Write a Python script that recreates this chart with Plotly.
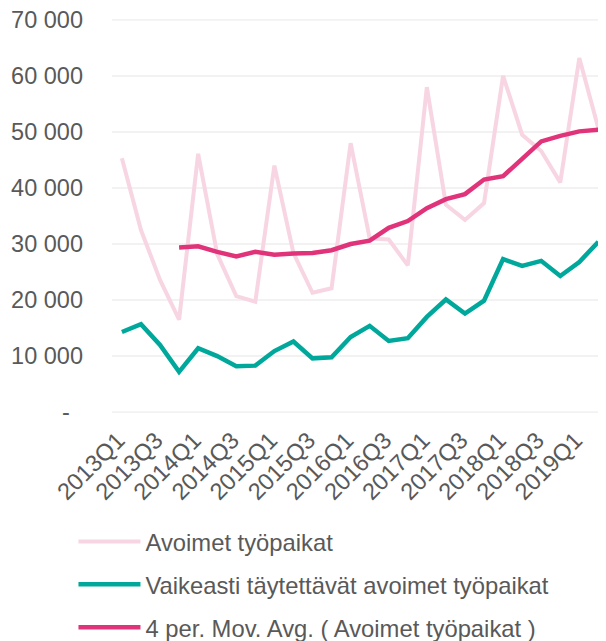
import plotly.graph_objects as go

# Quarterly vacancies, 2013Q1 - 2019Q2
quarters = [f"{y}Q{q}" for y in range(2013, 2020) for q in range(1, 5)][:26]

avoimet = [45300, 32500, 23600, 16500, 46100, 28200, 20700, 19700,
           44000, 28400, 21300, 22100, 48000, 31000, 30800, 26200,
           58000, 37000, 34300, 37300, 60000, 49500, 46600, 41000,
           63200, 50600]

vaikeasti = [14300, 15700, 12000, 7200, 11400, 10000, 8200, 8300,
             10900, 12600, 9600, 9800, 13400, 15400, 12700, 13200,
             17000, 20100, 17600, 19900, 27300, 26100, 27000, 24300,
             26800, 30400]

# 4-period moving average as drawn (starts at the 4th quarter)
mov_avg = [None, None, None, 29400, 29600, 28600, 27800, 28600,
           28100, 28300, 28400, 28900, 30000, 30600, 32900, 34100,
           36400, 38000, 38900, 41500, 42100, 45200, 48300, 49300,
           50100, 50400]

y_ticks = [0, 10000, 20000, 30000, 40000, 50000, 60000, 70000]
y_ticktext = ["-\u00a0\u00a0", "10 000", "20 000", "30 000", "40 000", "50 000", "60 000", "70 000"]

TEXT = "#595959"
GRID = "#D6D6D6"
FONT = "Arial, Liberation Sans, sans-serif"

fig = go.Figure()
fig.add_trace(go.Scatter(x=quarters, y=avoimet, mode="lines", name="Avoimet työpaikat",
                         line=dict(color="#F8D5E2", width=4), legendgroup="a"))
fig.add_trace(go.Scatter(x=quarters, y=vaikeasti, mode="lines",
                         name="Vaikeasti täytettävät avoimet työpaikat",
                         line=dict(color="#00A89C", width=4.5), legendgroup="b"))
fig.add_trace(go.Scatter(x=quarters, y=mov_avg, mode="lines",
                         name="4 per. Mov. Avg. ( Avoimet työpaikat )",
                         line=dict(color="#E03379", width=4.5), legendgroup="c"))

# gridlines as shapes so the ones at the range ends are kept too
for v in y_ticks:
    fig.add_hline(y=v, line=dict(color=GRID, width=2), layer="below")

# the page body adds an 8px offset, so the figure is 8px smaller on each side
fig.update_layout(
    template="simple_white",
    width=598, height=633,
    margin=dict(l=104, r=0, t=11, b=228),
    paper_bgcolor="white", plot_bgcolor="white",
    font=dict(family=FONT, size=23.5, color=TEXT),
    showlegend=True,
    legend=dict(orientation="v", x=-0.078, xanchor="left",
                yref="container", y=0.192, yanchor="top",
                font=dict(size=23.8, color=TEXT), itemwidth=62, tracegroupgap=9,
                bgcolor="rgba(0,0,0,0)"),
)
fig.update_xaxes(type="category", range=[-0.52, 25.4], tickvals=quarters[::2],
                 tickangle=-45, showgrid=False, showline=False, ticks="",
                 ticklabelstandoff=8, ticklabelshift=-4, automargin=False,
                 tickfont=dict(size=23.5, color=TEXT))
fig.update_yaxes(range=[-150, 70150], tickvals=y_ticks, ticktext=y_ticktext,
                 showgrid=False, zeroline=False, showline=False, ticks="",
                 ticklabelstandoff=28, ticklabeloverflow="allow", automargin=False,
                 tickfont=dict(size=23.5, color=TEXT))

fig.write_html("out.html")
